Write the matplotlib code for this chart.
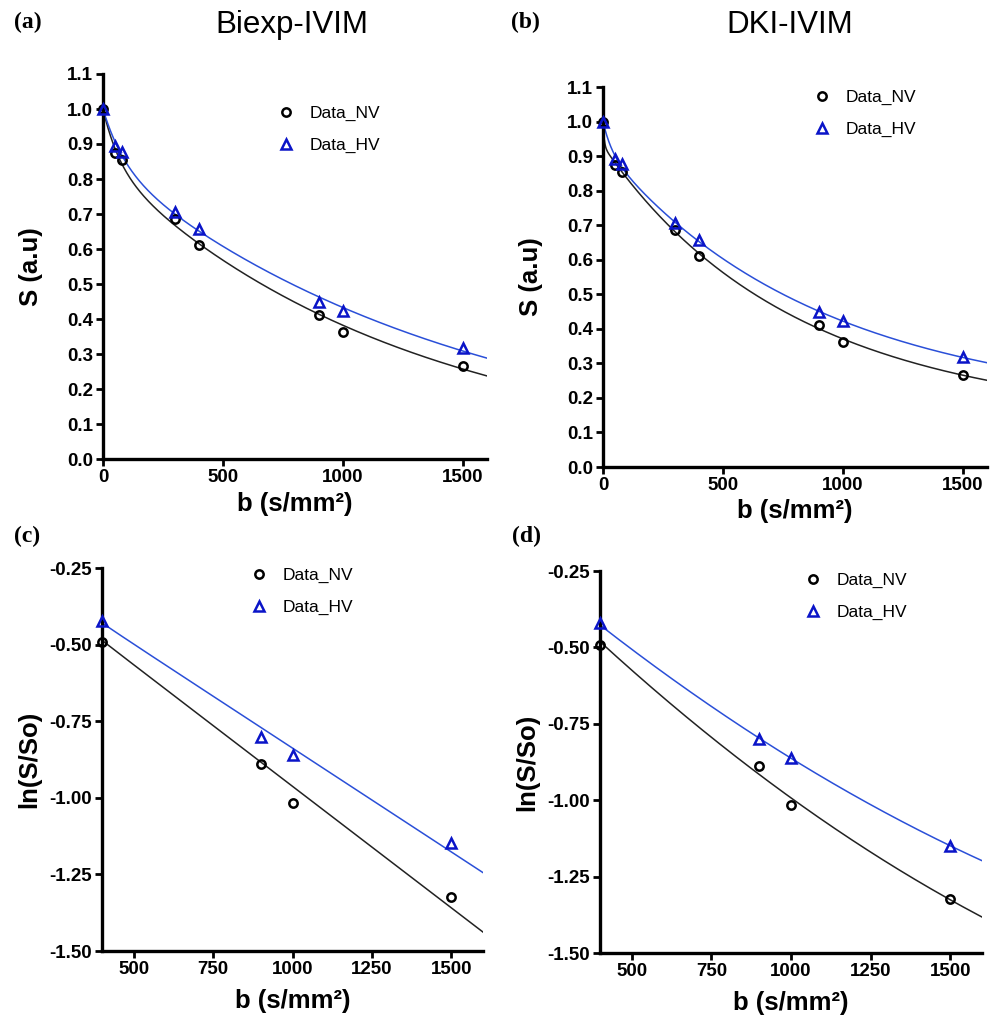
"""IVIM signal decay: biexponential vs DKI fits, NV vs HV groups."""

import numpy as np
import matplotlib
matplotlib.use("Agg")
import matplotlib.pyplot as plt
from matplotlib.ticker import FormatStrFormatter

plt.rcParams["font.family"] = ["Liberation Sans", "DejaVu Sans"]

b_values = np.array([0, 50, 80, 300, 400, 900, 1000, 1500], dtype=float)
s_nv = np.array([1.0, 0.875, 0.853, 0.686, 0.611, 0.411, 0.362, 0.266])
s_hv = np.array([1.0, 0.893, 0.878, 0.706, 0.656, 0.449, 0.423, 0.317])

group_labels = ["Data_NV", "Data_HV"]
panel_titles = ["Biexp-IVIM", "DKI-IVIM"]
panel_letters = ["(a)", "(b)", "(c)", "(d)"]

s_ticks = np.arange(0, 12) / 10
b_ticks_top = [0, 500, 1000, 1500]
ln_ticks = [-0.25, -0.50, -0.75, -1.00, -1.25, -1.50]
b_ticks_bottom = [500, 750, 1000, 1250, 1500]

B_SPLIT = 200
NV_COLOR = "black"
HV_COLOR = "#0a14c8"
NV_LINE = "#222222"
HV_LINE = "#2a4fd8"

W, H = 993, 1021


def _fit_fast(b, s, slow, f):
    """Grid search for the pseudo-diffusion coefficient on low b values."""
    low = b < B_SPLIT
    resid = s[low] - slow(b[low])
    grid = np.linspace(0.002, 0.2, 4000)
    err = [np.sum((f * np.exp(-b[low] * g) - resid) ** 2) for g in grid]
    return grid[int(np.argmin(err))]


def fit_biexp(b, s):
    high = b >= B_SPLIT
    slope, icpt = np.polyfit(b[high], np.log(s[high]), 1)
    f = 1 - np.exp(icpt)
    slow = lambda x: np.exp(icpt + slope * x)
    dstar = _fit_fast(b, s, slow, f)
    return lambda x: f * np.exp(-x * dstar) + slow(x)


def fit_dki(b, s):
    high = b >= B_SPLIT
    c2, c1, c0 = np.polyfit(b[high], np.log(s[high]), 2)
    f = 1 - np.exp(c0)
    slow = lambda x: np.exp(c0 + c1 * x + c2 * x ** 2)
    dstar = _fit_fast(b, s, slow, f)
    return lambda x: f * np.exp(-x * dstar) + slow(x)


def style_axes(ax):
    for side in ("top", "right"):
        ax.spines[side].set_visible(False)
    for side in ("left", "bottom"):
        ax.spines[side].set_linewidth(2.4)
    ax.tick_params(direction="out", length=5, width=2.0, labelsize=13.5, pad=2)
    for lab in ax.get_xticklabels() + ax.get_yticklabels():
        lab.set_fontweight("bold")


def add_legend(ax, fig, x_px, y_px):
    leg = ax.legend(loc="upper left", bbox_to_anchor=(x_px / W, 1 - y_px / H),
                    bbox_transform=fig.transFigure, frameon=False, fontsize=12.5,
                    handlelength=1.0, handletextpad=0.9, labelspacing=0.93,
                    borderpad=0, borderaxespad=0)
    return leg


fig = plt.figure(figsize=(W / 100, H / 100), dpi=100)

rects = {
    "a": [103, 74, 384, 385],
    "b": [603, 87, 384, 380],
    "c": [102, 568, 381, 383],
    "d": [600, 571, 382, 382],
}
axes = {}
for key, (l, t, w, h) in rects.items():
    axes[key] = fig.add_axes([l / W, 1 - (t + h) / H, w / W, h / H])

fits = {
    "a": (fit_biexp(b_values, s_nv), fit_biexp(b_values, s_hv)),
    "b": (fit_dki(b_values, s_nv), fit_dki(b_values, s_hv)),
}
fits["c"] = fits["a"]
fits["d"] = fits["b"]

mk_nv = dict(marker="o", ls="none", mfc="none", mec=NV_COLOR, mew=1.8, ms=6,
             clip_on=False, zorder=4)
mk_hv = dict(marker="^", ls="none", mfc="none", mec=HV_COLOR, mew=1.8, ms=6.5,
             clip_on=False, zorder=4)

# top row: signal vs b
for key in ("a", "b"):
    ax = axes[key]
    f_nv, f_hv = fits[key]
    bb = np.linspace(0, 1600, 600)
    ax.plot(bb, f_nv(bb), color=NV_LINE, lw=1.1, zorder=2)
    ax.plot(bb, f_hv(bb), color=HV_LINE, lw=1.1, zorder=2)
    ax.plot(b_values, s_nv, label=group_labels[0], **mk_nv)
    ax.plot(b_values, s_hv, label=group_labels[1], **mk_hv)
    ax.set_xlim(0, 1600)
    ax.set_ylim(0, 1.1)
    ax.set_xticks(b_ticks_top)
    ax.set_yticks(s_ticks)
    ax.yaxis.set_major_formatter(FormatStrFormatter("%.1f"))
    ax.set_ylabel("S (a.u)", fontsize=18.5, fontweight="bold")
    ax.set_xlabel("b (s/mm²)", fontsize=18.5, fontweight="bold")
    style_axes(ax)

# bottom row: log signal for high b
for key in ("c", "d"):
    ax = axes[key]
    f_nv, f_hv = fits[key]
    keep = b_values >= 400
    bb = np.linspace(400, 1600, 600)
    ax.plot(bb, np.log(f_nv(bb)), color=NV_LINE, lw=1.1, zorder=2)
    ax.plot(bb, np.log(f_hv(bb)), color=HV_LINE, lw=1.1, zorder=2)
    ax.plot(b_values[keep], np.log(s_nv[keep]), label=group_labels[0], **mk_nv)
    ax.plot(b_values[keep], np.log(s_hv[keep]), label=group_labels[1], **mk_hv)
    ax.set_xlim(400, 1600)
    ax.set_ylim(-1.5, -0.25)
    ax.set_xticks(b_ticks_bottom)
    ax.set_yticks(ln_ticks)
    ax.yaxis.set_major_formatter(FormatStrFormatter("%.2f"))
    ax.set_ylabel("ln(S/So)", fontsize=18.5, fontweight="bold")
    ax.set_xlabel("b (s/mm²)", fontsize=18.5, fontweight="bold")
    style_axes(ax)

# label positions (pixels) and legends
axes["a"].yaxis.set_label_coords(-0.155, 0.5)
axes["b"].yaxis.set_label_coords(-0.155, 0.5)
axes["c"].yaxis.set_label_coords(-0.16, 0.5)
axes["d"].yaxis.set_label_coords(-0.16, 0.5)
for key in ("a", "b"):
    axes[key].xaxis.set_label_coords(0.5, -0.085)
for key in ("c", "d"):
    axes[key].xaxis.set_label_coords(0.5, -0.1)

add_legend(axes["a"], fig, 277, 106)
add_legend(axes["b"], fig, 813, 90)
add_legend(axes["c"], fig, 250, 568)
add_legend(axes["d"], fig, 804, 573)

fig.text(292 / W, 1 - 25 / H, panel_titles[0], ha="center", va="center", fontsize=22.5)
fig.text(790 / W, 1 - 25 / H, panel_titles[1], ha="center", va="center", fontsize=22.5)
for letter, (x, y) in zip(panel_letters, [(14, 22), (511, 22), (14, 536), (512, 536)]):
    fig.text(x / W, 1 - y / H, letter, ha="left", va="center", fontsize=17,
             fontweight="bold", family=["Liberation Serif", "DejaVu Serif"])

fig.savefig("out.png", dpi=100)
plt.close(fig)
